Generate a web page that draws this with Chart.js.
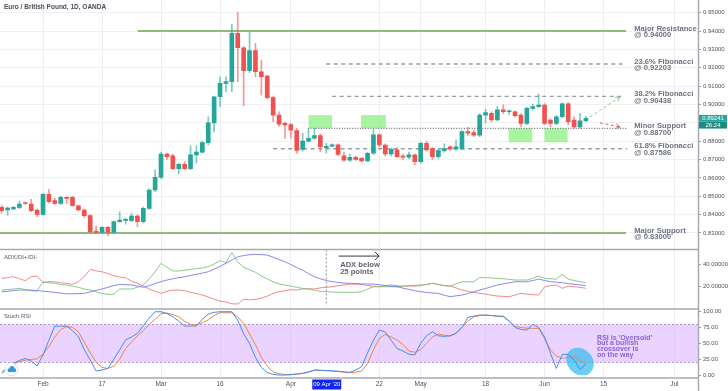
<!DOCTYPE html>
<html><head><meta charset="utf-8">
<script src="https://cdn.jsdelivr.net/npm/chart.js@4/dist/chart.umd.min.js"></script>
<style>html,body{margin:0;padding:0;background:#fff;overflow:hidden}#wrap{position:relative;width:728px;height:391px}canvas{display:block}</style>
</head><body><div id="wrap"><canvas id="c" width="728" height="391"></canvas></div>
<script>
// ---------- DATA (EUR/GBP daily, 23 Jan 2020 – 10 Jun 2020) ----------
const opens  = [0.8439,0.8425,0.8430,0.8439,0.8463,0.8457,0.8425,0.8401,0.8510,0.8476,
                0.8461,0.8492,0.8494,0.8447,0.8425,0.8394,0.8310,0.8303,0.8330,0.8303,
                0.8361,0.8368,0.8367,0.8392,0.8361,0.8434,0.8534,0.8603,0.8730,0.8720,
                0.8650,0.8673,0.8650,0.8725,0.8740,0.8792,0.8900,0.9042,0.9115,0.9124,
                0.9387,0.9309,0.9184,0.9293,0.9178,0.9155,0.9037,0.8942,0.8897,0.8890,
                0.8858,0.8755,0.8800,0.8816,0.8831,0.8765,0.8772,0.8780,0.8720,0.8697,
                0.8712,0.8706,0.8692,0.8734,0.8834,0.8779,0.8730,0.8752,0.8716,0.8713,
                0.8725,0.8688,0.8788,0.8760,0.8715,0.8748,0.8769,0.8757,0.8757,0.8852,
                0.8846,0.8833,0.8942,0.8952,0.8915,0.8970,0.8960,0.8960,0.8942,0.8897,
                0.8979,0.8988,0.8997,0.8915,0.8897,0.8933,0.9003,0.8915,0.8878,0.8911];
const highs  = [0.8452,0.8440,0.8445,0.8474,0.8468,0.8483,0.8430,0.8515,0.8537,0.8490,
                0.8500,0.8497,0.8500,0.8452,0.8430,0.8400,0.8337,0.8335,0.8336,0.8365,
                0.8415,0.8379,0.8408,0.8398,0.8440,0.8540,0.8643,0.8740,0.8735,0.8730,
                0.8680,0.8688,0.8775,0.8775,0.8800,0.8933,0.9045,0.9151,0.9150,0.9438,
                0.9502,0.9315,0.9393,0.9333,0.9242,0.9160,0.9045,0.8960,0.8905,0.8897,
                0.8870,0.8843,0.8864,0.8870,0.8840,0.8788,0.8785,0.8785,0.8740,0.8730,
                0.8718,0.8710,0.8740,0.8865,0.8840,0.8785,0.8762,0.8765,0.8730,0.8740,
                0.8730,0.8795,0.8800,0.8765,0.8755,0.8785,0.8775,0.8806,0.8858,0.8875,
                0.8860,0.8950,0.8975,0.8960,0.8990,0.8998,0.8970,0.8965,0.8950,0.8985,
                0.9000,0.9057,0.9005,0.8920,0.8940,0.9010,0.9010,0.8933,0.8952,0.8935];
const lows   = [0.8408,0.8397,0.8425,0.8432,0.8455,0.8415,0.8388,0.8395,0.8462,0.8455,
                0.8455,0.8461,0.8445,0.8420,0.8385,0.8300,0.8298,0.8298,0.8283,0.8300,
                0.8358,0.8348,0.8362,0.8334,0.8355,0.8428,0.8525,0.8595,0.8700,0.8645,
                0.8622,0.8645,0.8645,0.8680,0.8735,0.8780,0.8850,0.8988,0.9069,0.9069,
                0.9124,0.8992,0.9175,0.9151,0.9051,0.9030,0.8906,0.8880,0.8815,0.8815,
                0.8734,0.8745,0.8795,0.8810,0.8742,0.8734,0.8770,0.8720,0.8690,0.8690,
                0.8695,0.8685,0.8688,0.8728,0.8770,0.8719,0.8720,0.8710,0.8700,0.8705,
                0.8670,0.8680,0.8745,0.8700,0.8705,0.8740,0.8750,0.8750,0.8752,0.8830,
                0.8825,0.8825,0.8900,0.8905,0.8910,0.8950,0.8945,0.8930,0.8878,0.8890,
                0.8970,0.8985,0.8890,0.8878,0.8890,0.8928,0.8888,0.8870,0.8870,0.8905];
const closes = [0.8421,0.8435,0.8439,0.8457,0.8460,0.8421,0.8401,0.8510,0.8470,0.8461,
                0.8494,0.8488,0.8449,0.8425,0.8394,0.8306,0.8303,0.8330,0.8303,0.8361,
                0.8370,0.8371,0.8392,0.8361,0.8434,0.8534,0.8603,0.8730,0.8715,0.8650,
                0.8673,0.8650,0.8725,0.8740,0.8792,0.8900,0.9042,0.9115,0.9124,0.9387,
                0.9309,0.9184,0.9293,0.9178,0.9151,0.9037,0.8942,0.8893,0.8888,0.8860,
                0.8750,0.8800,0.8816,0.8831,0.8770,0.8772,0.8780,0.8728,0.8697,0.8712,
                0.8700,0.8692,0.8734,0.8834,0.8779,0.8730,0.8756,0.8715,0.8713,0.8725,
                0.8688,0.8788,0.8752,0.8715,0.8748,0.8760,0.8757,0.8769,0.8852,0.8843,
                0.8833,0.8942,0.8955,0.8915,0.8970,0.8960,0.8963,0.8939,0.8897,0.8979,
                0.8988,0.8997,0.8897,0.8897,0.8933,0.9003,0.8906,0.8878,0.8911,0.89241];

const adx    = [15.6,16,16.6,17.1,17.1,17.1,16.6,16.1,15.6,15,14.4,13.8,13.8,14,14.2,15.5,16.8,18,19.5,21,
                22.1,21.8,21.5,20.5,19.5,21,22.8,24.5,25.9,27,28,28.8,30,31,32,33.2,35.5,38,40.6,43.5,
                46.4,47.5,48.2,48.5,48.3,47.9,46,44,42,39.5,37,34.7,31.5,28.8,27,25.5,24.4,23.8,23.2,23,
                22.8,22.5,22.4,22.4,21.8,21,20.5,20,18.8,17.6,16.5,15.6,15,14.5,14.2,12.5,11.2,12,12.7,14,
                15.5,17.1,18.5,20,21.5,22.5,23.5,24.4,24.4,24.4,25.5,26.7,25.5,24.4,24,23.5,22.8,22.2,21.6,21];
const diPlus = [17.1,17.5,18,18.6,17.5,16.5,16.2,24.4,23.5,23,22,21.5,20.5,19.5,18,17.1,15.5,14,13.3,13.3,
                18,18,18,19.5,21.5,27,33.2,40.6,37,34,33.8,34.5,35.3,36,36.5,37.6,40,42.9,41.1,50,
                42,37.1,35,32.7,29.5,27,24.4,22.5,21.5,20.6,19.5,18.5,18,17,16,15.6,15.4,15.2,15.1,15.1,
                15.1,15.6,18,20,20,20,20,20,20.5,21,21.2,21.5,22,23,22,21,20.6,22.5,24.4,24.4,
                24.4,28.2,28,27.7,27.4,27,26.5,25.9,25.9,25.9,27.5,29.4,27.4,27,26.7,30.9,26.7,25.5,24.5,23.5];
const diMinus= [27.4,28,28.8,27,25.3,29,29.4,23.5,24.5,24.4,23.5,23,22.1,24.4,29,35.3,34,33.2,31.5,29.7,
                28.5,27.9,25,23,20.6,18,16,14.2,16,17,17.1,16.5,15,14,12.7,11,9,7.4,6.5,5,
                4.8,8.9,8.5,8.9,10,11.8,14,15.6,16.5,17.5,17,18,18.2,18,19,19.5,20,21,21.5,22.4,
                22.2,22,21,20.5,20,21,21.5,21,20.5,20.6,20.6,21,22,23,22,21,20.6,19,17.1,16,
                15,14.2,13.5,12.5,11.8,11.5,11.2,12.7,14.2,13.5,13,12.7,20,21,21.5,18.6,20.6,20,19.5,18.6];
const stochK = [2.6,10,18.4,23,26.3,22,14.2,31.6,55,77.4,77,77.4,70,60.5,40,23.7,6.3,8,10.5,25,
                40,55.3,60,65.8,78,90,100,100,97,92,85,77.4,77.4,77.4,88,96.3,99,100,100,100,
                86.8,65,50,27.9,12,4,1,0,0,0.5,1.5,2.6,5,7.9,7.5,7,6.8,6,5,4.2,
                8,13.2,35,55,71,68,55,42,38,33,31.6,50,62,68.4,62,61,62,66,75.3,91,
                93,94.7,94.5,94,93,93,85,75,72,71,80,75,60,34.2,10.5,32.6,32.6,24,8.9,17.4];
const stochD = [5.3,11,17.4,21,23.5,24.7,25.5,33,45,60,72,76.3,75.5,68,52,35,20,12,10.5,14,
                25,42,52,62,70,80,88,97,98,95.5,92,85,80,79,82.6,87,94,98.4,98.4,98.4,
                92,81.6,65,48,28,14,5,2,1,1,1.5,2.6,4,7.9,7.5,6.8,6.3,5.5,4.5,3.7,
                4.5,6.3,18.4,40,58,64.2,60,55.3,48,38,36,40,50,60,64.7,63,61.6,66,75.3,85,
                92,94,94.7,94,93,92,85,77,75,74,73.7,73.7,58,39.5,30,26.3,28,29,23,18.4];

// time-axis tick labels (trading-day index -> label)
const tickIdx  = [7, 17, 27, 37, 49, 64, 71, 82, 92, 102, 114];
const tickText = ['Feb','17','Mar','16','Apr','22','May','18','Jun','15','Jul'];
const priceTicks = [0.83,0.84,0.85,0.86,0.87,0.88,0.89,0.90,0.91,0.92,0.93,0.94,0.95];
const adxTicks = [20, 40];
const stochTicks = [0, 25, 50, 75, 100];

// key levels
const levelValues = [0.94, 0.92203, 0.90438, 0.887, 0.87586, 0.83];
const levelNames  = ['Major Resistance','23.6% Fibonacci','38.2% Fibonacci','Minor Support','61.8% Fibonacci','Major Support'];
const levelStart  = [23.05, 55, 56, 51.9, 46, -0.29];
const levelEnd    = [105.8, 105.2, 105.2, 106, 106, 105.8];
const levelKind   = ['major','fib','fib','minor','fib','major'];

// highlighted support touches (index range, price range)
const zoneX0 = [52, 60.9, 85.9, 92];
const zoneX1 = [56, 65.1, 89.9, 95.9];
const zoneTop = [0.8942, 0.8942, 0.887, 0.887];
const zoneBot = [0.887, 0.887, 0.8794, 0.8794];

// ---------- CHART ----------
const FONT = "'Liberation Sans', Arial, sans-serif";
const UP = '#26a69a', DOWN = '#ef5350';
const isUp = opens.map((o,i)=>closes[i]>=o);
const bodyData = opens.map((o,i)=>({x:i, y:[o, closes[i]]}));
const wickData = opens.map((o,i)=>({x:i, y:[lows[i], highs[i]]}));
const series = arr => arr.map((v,i)=>({x:i, y:v}));

const levelDatasets = levelValues.map((v,k)=>({
  type:'line', yAxisID:'y', xAxisID:'x', order:3,
  data:[{x:levelStart[k], y:v},{x:levelEnd[k], y:v}],
  borderColor: levelKind[k]==='major' ? '#8fbb7f' : (levelKind[k]==='fib' ? '#9a9da6' : '#6f727c'),
  borderWidth: levelKind[k]==='major' ? 2 : 1.3,
  borderDash: levelKind[k]==='fib' ? [4,3.5] : (levelKind[k]==='minor' ? [1,1.6] : []),
  pointRadius:0, fill:false
}));

function noPad(s){ s.paddingTop=0; s.paddingBottom=0; s.paddingLeft=0; s.paddingRight=0; }

const overlay = {
  id:'overlay',
  beforeDatasetsDraw(chart){
    const ctx = chart.ctx, x = chart.scales.x, y = chart.scales.y, ys = chart.scales.yStoch;
    const ca = chart.chartArea;
    ctx.save();
    const b1 = ys.getPixelForValue(80), b2 = ys.getPixelForValue(20);
    ctx.fillStyle = 'rgba(204,153,255,0.42)';
    ctx.fillRect(ca.left, b1, ca.right-ca.left, b2-b1);
    ctx.strokeStyle = 'rgba(150,120,190,0.9)'; ctx.lineWidth = 0.8; ctx.setLineDash([2,2]);
    [b1,b2].forEach(p=>{ctx.beginPath();ctx.moveTo(ca.left,p);ctx.lineTo(ca.right,p);ctx.stroke();});
    ctx.setLineDash([]);
    ctx.fillStyle = 'rgba(140,240,130,0.75)';
    for (let k=0;k<zoneX0.length;k++){
      const l = x.getPixelForValue(zoneX0[k]), r = x.getPixelForValue(zoneX1[k]);
      const t = y.getPixelForValue(zoneTop[k]), bt = y.getPixelForValue(zoneBot[k]);
      ctx.fillRect(l,t,r-l,bt-t);
    }
    const ex = x.getPixelForValue(98), ey = ys.getPixelForValue(21.3);
    ctx.fillStyle = 'rgba(60,190,240,0.75)';
    ctx.beginPath(); ctx.ellipse(ex, ey, 15, 12.5, Math.PI/4, 0, Math.PI*2); ctx.fill();
    const ya = chart.scales.yAdx;
    const cx = x.getPixelForValue(55);
    ctx.strokeStyle = '#6a7087'; ctx.lineWidth = 0.8; ctx.setLineDash([2,2]);
    ctx.beginPath(); ctx.moveTo(cx, ya.top); ctx.lineTo(cx, ya.bottom-3); ctx.stroke();
    ctx.setLineDash([]);
    ctx.restore();
  },
  afterDraw(chart){
    const ctx = chart.ctx, x = chart.scales.x, y = chart.scales.y, ya = chart.scales.yAdx, ys = chart.scales.yStoch;
    const ca = chart.chartArea;
    ctx.save();
    ctx.strokeStyle = '#a7aab2'; ctx.lineWidth = 1.5;
    [ya.top, ys.top, ca.bottom].forEach(p=>{ctx.beginPath();ctx.moveTo(0,p);ctx.lineTo(ca.right,p);ctx.stroke();});
    ctx.beginPath(); ctx.moveTo(ca.right+0.5,0); ctx.lineTo(ca.right+0.5,chart.height); ctx.stroke();
    ctx.fillStyle = '#4a4d57'; ctx.textBaseline = 'middle'; ctx.textAlign = 'left';
    ctx.font = 'bold 6.5px ' + FONT;
    ctx.fillText('Euro / British Pound, 1D, OANDA', 4, 7.5);
    ctx.font = '6px ' + FONT; ctx.fillStyle = '#555862';
    ctx.fillText('ADX/DI+/DI-', 4, ya.top + 8);
    ctx.fillText('Stoch RSI', 4, ys.top + 7.5);
    ctx.fillStyle = '#6c7280'; ctx.font = 'bold 7.6px ' + FONT;
    const lx = x.getPixelForValue(107.2);
    levelValues.forEach((v,k)=>{
      const p = y.getPixelForValue(v);
      ctx.fillText(levelNames[k], lx, p - 2.4);
      ctx.fillText('@ ' + v.toFixed(5), lx, p + 4.3);
    });
    ctx.fillStyle = '#60646f'; ctx.font = 'bold 7.6px ' + FONT;
    const ax = x.getPixelForValue(57.1), ay = ya.getPixelForValue(47);
    ctx.fillText('ADX below', ax+1.5, ay + 9);
    ctx.fillText('25 points', ax+1.5, ay + 16.3);
    const aex = x.getPixelForValue(63.95);
    ctx.strokeStyle = '#222'; ctx.lineWidth = 0.9;
    ctx.beginPath(); ctx.moveTo(ax, ay); ctx.lineTo(aex, ay);
    ctx.moveTo(aex-4, ay-4); ctx.lineTo(aex, ay); ctx.lineTo(aex-4, ay+4); ctx.stroke();
    ctx.fillStyle = '#8a63d2'; ctx.font = 'bold 7px ' + FONT;
    const rx = x.getPixelForValue(100.9), ry = ys.getPixelForValue(58.9);
    ['RSI is \'Oversold\'','but a bullish','crossover is','on the way'].forEach((t,k)=>ctx.fillText(t, rx, ry + k*5.8));
    function dashArrow(x0,y0,x1,y1,col){
      const X0=x.getPixelForValue(x0), Y0=y.getPixelForValue(y0), X1=x.getPixelForValue(x1), Y1=y.getPixelForValue(y1);
      ctx.strokeStyle=col; ctx.lineWidth=1; ctx.setLineDash([3,2.5]);
      ctx.beginPath(); ctx.moveTo(X0,Y0); ctx.lineTo(X1,Y1); ctx.stroke(); ctx.setLineDash([]);
      const a=Math.atan2(Y1-Y0,X1-X0);
      ctx.beginPath();
      ctx.moveTo(X1-5*Math.cos(a-0.5),Y1-5*Math.sin(a-0.5)); ctx.lineTo(X1,Y1);
      ctx.lineTo(X1-5*Math.cos(a+0.5),Y1-5*Math.sin(a+0.5)); ctx.stroke();
    }
    dashArrow(99.7, 0.8932, 104.8, 0.9041, '#8fcf86');
    dashArrow(101.4, 0.8900, 104.8, 0.8877, '#e8605c');
    const last = closes[closes.length-1];
    const py = y.getPixelForValue(last);
    ctx.fillStyle = UP; ctx.fillRect(ca.right+1, py-3.4, 28, 6.8);
    ctx.fillStyle = '#1f8c82'; ctx.fillRect(ca.right+1, py+3.6, 28, 6.6);
    ctx.fillStyle = '#fff'; ctx.font = '6px ' + FONT; ctx.textAlign='center';
    ctx.fillText(last.toFixed(5), ca.right+15, py);
    ctx.fillText('26:24', ca.right+15, py+7);
    const dx = x.getPixelForValue(55);
    ctx.fillStyle = '#1424f0'; ctx.fillRect(dx-14, ca.bottom+1.5, 29, 10);
    ctx.fillStyle = '#fff'; ctx.font = '6px ' + FONT;
    ctx.fillText("09 Apr '20", dx+0.5, ca.bottom+6.8);
    const lgx = 11.5, lgy = ys.getPixelForValue(9);
    ctx.fillStyle='#fff'; ctx.strokeStyle='#d5d8de'; ctx.lineWidth=0.8;
    ctx.beginPath(); ctx.arc(lgx, lgy, 6.5, 0, Math.PI*2); ctx.fill(); ctx.stroke();
    ctx.fillStyle='#2d9be8';
    ctx.beginPath(); ctx.arc(lgx-2,lgy+0.8,2,0,Math.PI*2); ctx.arc(lgx+0.5,lgy-0.8,2.6,0,Math.PI*2); ctx.arc(lgx+2.8,lgy+0.8,1.9,0,Math.PI*2); ctx.fill();
    ctx.fillRect(lgx-2,lgy+0.8,4.8,1.9);
    ctx.restore();
  }
};

new Chart(document.getElementById('c'), {
  type:'bar',
  data:{ datasets:[
    {type:'bar', label:'wick', data:wickData, backgroundColor: isUp.map(u=>u?'rgba(38,166,154,0.6)':'rgba(239,83,80,0.6)'),
     barThickness:1, grouped:false, yAxisID:'y', xAxisID:'x', order:2},
    {type:'bar', label:'body', data:bodyData, backgroundColor: isUp.map(u=>u?UP:DOWN),
     barThickness:4, minBarLength:1, grouped:false, yAxisID:'y', xAxisID:'x', order:1},
    ...levelDatasets,
    {type:'line', label:'ADX', data:series(adx), borderColor:'#7b7bf0', borderWidth:0.9, pointRadius:0, yAxisID:'yAdx', order:0},
    {type:'line', label:'DI+', data:series(diPlus), borderColor:'#7cc47a', borderWidth:0.9, pointRadius:0, yAxisID:'yAdx', order:0},
    {type:'line', label:'DI-', data:series(diMinus), borderColor:'#f07c7a', borderWidth:0.9, pointRadius:0, yAxisID:'yAdx', order:0},
    {type:'line', label:'K', data:series(stochK), borderColor:'#3d8ef0', borderWidth:1, pointRadius:0, yAxisID:'yStoch', order:0},
    {type:'line', label:'D', data:series(stochD), borderColor:'#f2843a', borderWidth:1, pointRadius:0, yAxisID:'yStoch', order:0}
  ]},
  options:{
    responsive:false, animation:false, devicePixelRatio:1,
    layout:{padding:0},
    plugins:{legend:{display:false}, tooltip:{enabled:false}},
    scales:{
      x:{type:'linear', position:'bottom', min:-0.29, max:118.0, offset:false,
         afterBuildTicks:s=>{ s.ticks = tickIdx.map(v=>({value:v})); },
         ticks:{autoSkip:false, maxRotation:0, padding:2, color:'#50535e', font:{size:6.5, family:FONT},
                callback:v=>{const k=tickIdx.indexOf(v); return k>=0?tickText[k]:'';}},
         grid:{color:'#eceef3', drawTicks:false, offset:false}, border:{display:false},
         afterFit:s=>{ s.height = 13; noPad(s); }},
      y:{type:'linear', position:'right', stack:'panes', stackWeight:249.5, min:0.82095, max:0.95692,
         afterBuildTicks:s=>{ s.ticks = priceTicks.map(v=>({value:v})); },
         ticks:{autoSkip:false, padding:2, color:'#50535e', font:{size:6, family:FONT}, callback:v=>v.toFixed(5)},
         grid:{color:'#eef0f4', tickColor:'#9a9da6', tickLength:3}, border:{display:false},
         afterFit:s=>{ s.width = 30; noPad(s); }},
      yAdx:{type:'linear', position:'right', stack:'panes', stackWeight:59.5, min:0.4, max:52.8,
         afterBuildTicks:s=>{ s.ticks = adxTicks.map(v=>({value:v})); },
         ticks:{autoSkip:false, padding:2, color:'#50535e', font:{size:6, family:FONT}, callback:v=>v.toFixed(5)},
         grid:{color:'rgba(0,0,0,0)', tickColor:'#9a9da6', tickLength:3}, border:{display:false},
         afterFit:s=>{ s.width = 30; noPad(s); }},
      yStoch:{type:'linear', position:'right', stack:'panes', stackWeight:69, min:-4.7, max:104.3,
         afterBuildTicks:s=>{ s.ticks = stochTicks.map(v=>({value:v})); },
         ticks:{autoSkip:false, padding:2, color:'#50535e', font:{size:6, family:FONT}, callback:v=>v.toFixed(2)},
         grid:{color:'rgba(0,0,0,0)', tickColor:'#9a9da6', tickLength:3}, border:{display:false},
         afterFit:s=>{ s.width = 30; noPad(s); }}
    }
  },
  plugins:[overlay]
});
</script>
</body></html>
